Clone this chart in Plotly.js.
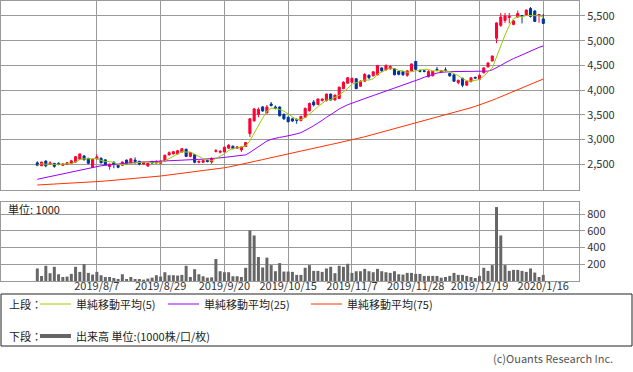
<!DOCTYPE html>
<html><head><meta charset="utf-8">
<script src="https://cdn.plot.ly/plotly-3.0.1.min.js"></script>
<style>html,body{margin:0;padding:0;background:#fff}#chart{width:633px;height:372px}</style>
</head><body><div id="chart"></div>
<script>
// Trading dates (categories)
const dates = [
'2019/7/18','2019/7/19','2019/7/22','2019/7/23','2019/7/24','2019/7/25','2019/7/26','2019/7/29','2019/7/30','2019/7/31',
'2019/8/1','2019/8/2','2019/8/5','2019/8/6','2019/8/7','2019/8/8','2019/8/9','2019/8/13','2019/8/14','2019/8/15','2019/8/16',
'2019/8/19','2019/8/20','2019/8/21','2019/8/22','2019/8/23','2019/8/26','2019/8/27','2019/8/28','2019/8/29','2019/8/30',
'2019/9/2','2019/9/3','2019/9/4','2019/9/5','2019/9/6','2019/9/9','2019/9/10','2019/9/11','2019/9/12','2019/9/13',
'2019/9/17','2019/9/18','2019/9/19','2019/9/20','2019/9/24','2019/9/25','2019/9/26','2019/9/27','2019/9/30',
'2019/10/1','2019/10/2','2019/10/3','2019/10/4','2019/10/7','2019/10/8','2019/10/9','2019/10/10','2019/10/11',
'2019/10/15','2019/10/16','2019/10/17','2019/10/18','2019/10/21','2019/10/23','2019/10/24','2019/10/25',
'2019/10/28','2019/10/29','2019/10/30','2019/10/31',
'2019/11/1','2019/11/5','2019/11/6','2019/11/7','2019/11/8','2019/11/11','2019/11/12','2019/11/13','2019/11/14','2019/11/15',
'2019/11/18','2019/11/19','2019/11/20','2019/11/21','2019/11/22','2019/11/25','2019/11/26','2019/11/27','2019/11/28','2019/11/29',
'2019/12/2','2019/12/3','2019/12/4','2019/12/5','2019/12/6','2019/12/9','2019/12/10','2019/12/11','2019/12/12','2019/12/13',
'2019/12/16','2019/12/17','2019/12/18','2019/12/19','2019/12/20','2019/12/23','2019/12/24','2019/12/25','2019/12/26','2019/12/27',
'2019/12/30','2020/1/6','2020/1/7','2020/1/8','2020/1/9','2020/1/10','2020/1/14','2020/1/15','2020/1/16'
];

const open = [2530,2470,2565,2500,2520,2520,2480,2500,2520,2545,
2600,2670,2620,2440,2610,2620,2590,2455,2540,2480,
2480,2585,2530,2585,2560,2505,2465,2560,2525,2520,
2570,2690,2710,2710,2750,2805,2660,2695,2540,2540,
2580,2545,2760,2745,2750,2825,2865,2825,2790,2860,
3120,3380,3510,3660,3540,3720,3660,3660,3510,3450,
3420,3405,3385,3450,3580,3760,3710,3790,3790,3920,
3800,3830,4030,4140,4160,4230,4080,4180,4300,4290,
4310,4450,4410,4430,4430,4380,4380,4300,4390,4580,
4400,4390,4270,4290,4420,4370,4410,4340,4310,4150,
4240,4100,4170,4260,4220,4350,4470,4590,5050,5310,
5410,5470,5330,5480,5510,5510,5650,5600,5510,5440];
const high = [2560,2550,2580,2560,2525,2540,2520,2545,2590,2665,
2715,2680,2630,2610,2700,2640,2600,2510,2560,2490,
2560,2595,2625,2640,2570,2545,2530,2565,2580,2570,
2690,2760,2770,2790,2830,2815,2745,2705,2575,2585,
2590,2640,2810,2790,2860,2900,2880,2870,2860,2950,
3430,3640,3650,3680,3700,3760,3690,3670,3530,3470,
3440,3430,3480,3650,3750,3800,3830,3840,3930,3930,
3910,4070,4180,4260,4250,4240,4200,4340,4320,4380,
4510,4460,4520,4500,4440,4390,4390,4400,4540,4590,
4410,4410,4400,4390,4470,4400,4460,4350,4320,4210,
4250,4190,4260,4270,4320,4460,4560,4700,5370,5560,
5560,5560,5420,5610,5520,5630,5680,5620,5540,5540];
const low = [2460,2465,2440,2490,2430,2480,2470,2490,2510,2535,
2595,2580,2500,2430,2600,2520,2480,2390,2420,2420,
2470,2500,2520,2510,2480,2490,2450,2510,2515,2510,
2560,2680,2700,2700,2740,2650,2640,2520,2520,2530,
2540,2510,2740,2720,2745,2815,2800,2810,2750,2850,
3050,3360,3450,3560,3530,3670,3610,3470,3400,3350,
3360,3320,3370,3440,3570,3670,3700,3770,3770,3790,
3790,3820,4020,4130,4150,4020,4070,4170,4220,4280,
4300,4370,4400,4420,4300,4300,4290,4270,4380,4410,
4360,4360,4260,4280,4390,4350,4380,4270,4170,4120,
4060,4090,4160,4230,4210,4340,4460,4580,4950,5280,
5360,5350,5310,5470,5350,5500,5470,5380,5360,5340];
const close = [2480,2545,2470,2530,2460,2495,2505,2530,2570,2655,
2710,2590,2520,2600,2650,2530,2490,2505,2505,2440,
2545,2505,2610,2560,2505,2540,2520,2525,2555,2565,
2685,2735,2755,2775,2815,2660,2735,2540,2560,2575,
2555,2620,2775,2760,2845,2890,2820,2850,2850,2940,
3420,3620,3610,3580,3660,3690,3630,3480,3420,3360,
3375,3390,3470,3630,3730,3700,3820,3815,3920,3800,
3900,4060,4160,4250,4240,4030,4180,4320,4250,4370,
4500,4390,4500,4480,4310,4320,4310,4390,4530,4420,
4380,4380,4380,4380,4410,4395,4400,4290,4180,4200,
4100,4180,4250,4245,4300,4450,4550,4690,5360,5480,
5500,5490,5400,5550,5490,5620,5490,5390,5530,5350];

// Volume (unit: 1000 shares)
const volume = [150,60,182,93,170,81,48,53,85,170,
109,202,97,77,109,69,48,48,36,24,
81,24,48,24,24,16,28,40,69,53,
105,69,69,65,73,182,48,141,81,57,
40,44,263,117,105,105,57,57,48,158,
606,545,287,162,279,190,117,214,113,113,
109,73,73,158,190,121,121,109,150,170,
93,182,170,206,97,117,117,145,117,105,
145,117,105,97,117,81,77,97,97,85,
85,61,61,61,61,40,48,61,97,73,
73,61,48,36,61,158,121,190,885,545,
190,121,133,133,121,109,150,101,48,73];

// Moving averages (25 and 75 day)
const ma25 = [2197,2216,2235,2254,2273,2292,2311,2330,2349,2368,2387,2405,2422,2440,2458,
2470,2480,2490,2500,2510,2518,2525,2532,2538,2543,2548,2552,2556,2560,2565,
2570,2574,2578,2582,2586,2590,2593,2596,2600,2603,2606,2610,
2620,2630,2640,2650,2660,2670,2680,2690,
2740,2800,2860,2920,2970,3005,3030,3045,3058,3075,3090,3115,
3140,3180,3230,3280,3330,3390,3450,3500,3560,3620,3670,3705,3735,3770,3800,
3830,3860,3890,3920,3950,3980,4005,4030,4060,4090,4120,4150,4190,4225,4260,
4290,4320,4345,4360,4370,4373,4375,4375,4375,4375,4375,4375,4375,4375,4385,
4410,4450,4500,4550,4600,4640,4675,4715,4755,4795,4830,4865,4895];
const ma75 = [2081,2085,2090,2094,2099,2103,2108,2112,2117,2121,2126,2131,2136,2142,2148,
2155,2162,2169,2176,2183,2190,2197,2204,2211,2218,2226,2234,2242,2251,2263,
2274,2285,2296,2307,2318,2328,2337,2346,2355,2364,2374,2385,
2400,2415,2430,2445,2462,2480,2497,2514,2535,2556,2576,2595,2615,2635,2654,
2672,2690,2708,2726,2744,2762,2780,2800,2820,2840,2860,2880,2900,2918,2936,2954,2972,2990,
3012,3034,3057,3080,3103,3126,3150,3172,3195,3218,3241,3264,3287,3310,3335,3360,
3382,3404,3426,3448,3472,3496,3520,3545,3570,3595,3620,3645,3672,3700,
3730,3762,3795,3830,3865,3900,3935,3970,4005,4040,4075,4110,4145,4185,4225];

const tickLabels = ['2019/8/7','2019/8/29','2019/9/20','2019/10/15','2019/11/7','2019/11/28','2019/12/19','2020/1/16'];
const priceTicks = [2500,3000,3500,4000,4500,5000,5500];
const volTicks = [200,400,600,800];

// 5-day simple moving average from closes
const ma5 = close.map((_, i) => {
  const s = close.slice(Math.max(0, i - 4), i + 1);
  return s.reduce((a, b) => a + b, 0) / s.length;
});

const F = '"Noto Sans CJK JP", "Liberation Sans", sans-serif';
const GRID = '#9a9a9a';
const RED = '#ff0033', BLUE = '#003399';
const C5 = '#99cc00', C25 = '#9900ff', C75 = '#ff3300';

const traces = [
  {type:'candlestick', x:dates, open:open, high:high, low:low, close:close, xaxis:'x', yaxis:'y',
   increasing:{line:{color:RED, width:1}, fillcolor:RED},
   decreasing:{line:{color:BLUE, width:1}, fillcolor:BLUE},
   whiskerwidth:0, hoverinfo:'skip'},
  {type:'scatter', mode:'lines', x:dates, y:ma75, xaxis:'x', yaxis:'y', line:{color:C75, width:1}, hoverinfo:'skip'},
  {type:'scatter', mode:'lines', x:dates, y:ma25, xaxis:'x', yaxis:'y', line:{color:C25, width:1}, hoverinfo:'skip'},
  {type:'scatter', mode:'lines', x:dates, y:ma5, xaxis:'x', yaxis:'y', line:{color:C5, width:1}, hoverinfo:'skip'},
  {type:'bar', x:dates, y:volume, xaxis:'x2', yaxis:'y2', marker:{color:'#666666', line:{width:0}}, width:0.7, hoverinfo:'skip'}
];

const XR = [-8.54, 127.4];
const axX = {type:'category', range:XR, tickvals:tickLabels, showgrid:true, gridcolor:GRID, gridwidth:1,
  showline:true, mirror:true, linecolor:GRID, linewidth:1, ticks:'', zeroline:false, fixedrange:true};
const axY = {side:'right', showgrid:true, gridcolor:GRID, gridwidth:1, showline:true, mirror:true,
  linecolor:GRID, linewidth:1, ticks:'outside', ticklen:5, tickcolor:GRID, zeroline:false, fixedrange:true,
  tickfont:{family:F, size:11, color:'#333'}};

function px(x){ return (x - 1) / 578; }
function py(y){ return (281 - y) / 280; }

const shapes = [
  {type:'rect', xref:'paper', yref:'paper', x0:px(1), x1:px(632), y0:py(294), y1:py(346), line:{color:'#222', width:1}},
  {type:'line', xref:'paper', yref:'paper', x0:px(40), x1:px(71), y0:py(304), y1:py(304), line:{color:C5, width:1}},
  {type:'line', xref:'paper', yref:'paper', x0:px(168), x1:px(199), y0:py(304), y1:py(304), line:{color:C25, width:1}},
  {type:'line', xref:'paper', yref:'paper', x0:px(311), x1:px(342), y0:py(304), y1:py(304), line:{color:C75, width:1}},
  {type:'line', xref:'paper', yref:'paper', x0:px(40), x1:px(71), y0:py(336), y1:py(336), line:{color:'#666', width:4}}
];
function ann(x, y, t, opt){ return Object.assign({xref:'paper', yref:'paper', x:px(x), y:py(y), text:t, showarrow:false,
  xanchor:'left', yanchor:'middle', font:{family:F, size:11, color:'#222'}}, opt || {}); }
const annotations = [
  ann(6, 209, '単位: 1000'),
  ann(7, 304, '上段：'),
  ann(74, 304, '単純移動平均(5)'),
  ann(202, 304, '単純移動平均(25)'),
  ann(345, 304, '単純移動平均(75)'),
  ann(7, 336, '下段：'),
  ann(74, 336, '出来高 単位:(1000株/口/枚)'),
  ann(615, 358, '(c)Ouants Research Inc.', {xanchor:'right', font:{family:F, size:11, color:'#555'}})
];

const layout = {
  width:633, height:372, margin:{l:1, r:54, t:1, b:91, pad:0},
  paper_bgcolor:'#fff', plot_bgcolor:'#fff', showlegend:false, dragmode:false,
  font:{family:F, size:11, color:'#333'},
  bargap:0.3,
  xaxis:Object.assign({}, axX, {anchor:'y', showticklabels:false, rangeslider:{visible:false}}),
  yaxis:Object.assign({}, axY, {domain:[0.325, 1], anchor:'x', range:[1980, 5803], tickvals:priceTicks, tickformat:','}),
  xaxis2:Object.assign({}, axX, {anchor:'y2', showticklabels:true, ticklabelstandoff:-5,
    tickfont:{family:F, size:11, color:'#333'}, rangeslider:{visible:false}}),
  yaxis2:Object.assign({}, axY, {domain:[0, 0.282], anchor:'x2', range:[0, 945], tickvals:volTicks}),
  shapes:shapes, annotations:annotations
};

Plotly.newPlot('chart', traces, layout, {staticPlot:true, displayModeBar:false});
</script></body></html>
